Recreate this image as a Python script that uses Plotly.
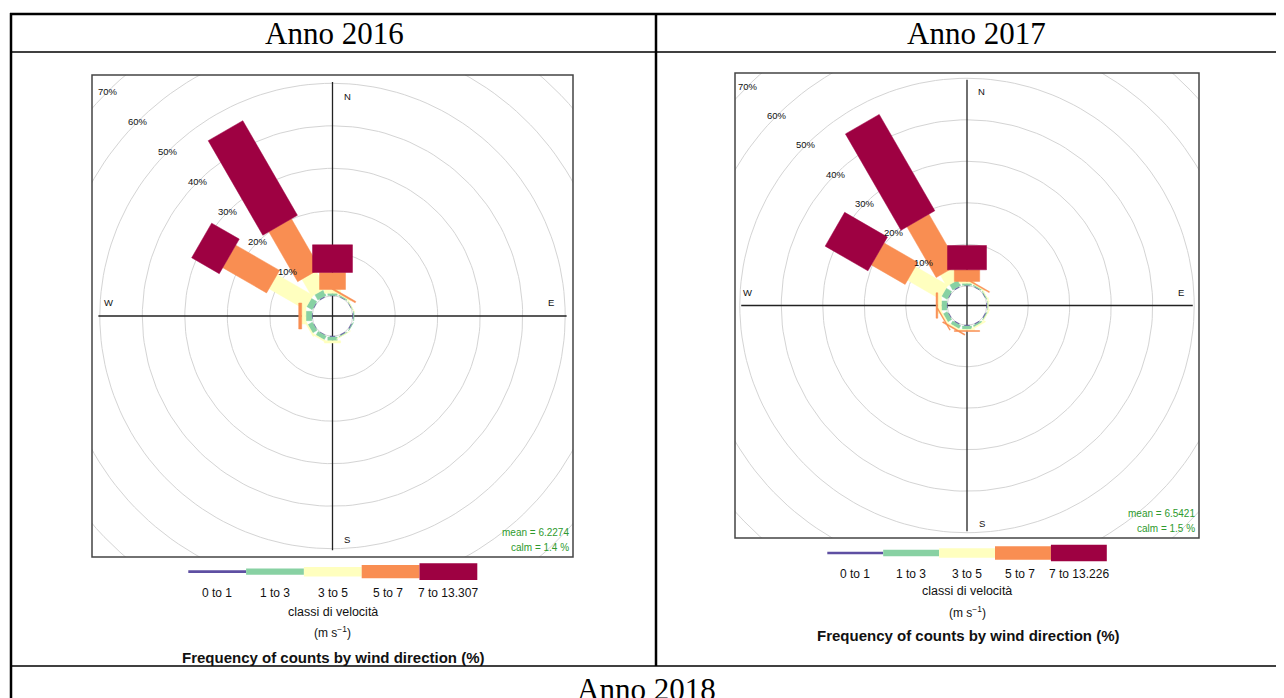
import math
import plotly.graph_objects as go

W, H = 1284, 698
PAGE_MARGIN = 8            # default body margin of the html page
FIG_W, FIG_H = W - PAGE_MARGIN, H - PAGE_MARGIN

# ---------------- data ----------------
directions = [0, 30, 60, 90, 120, 150, 180, 210, 240, 270, 300, 330]
speed_classes_2016 = ["0 to 1", "1 to 3", "3 to 5", "5 to 7", "7 to 13.307"]
speed_classes_2017 = ["0 to 1", "1 to 3", "3 to 5", "5 to 7", "7 to 13.226"]
class_colors = ["#5E4FA2", "#88D1A3", "#FFFFBF", "#F98E52", "#9E0142"]

# frequencies (%) per direction, one list per speed class
f2016_0to1 = [0.1, 0.1, 0.1, 0.2, 0.2, 0.2, 0.2, 0.1, 0.1, 0.1, 0.15, 0.2]
f2016_1to3 = [0.5, 0.3, 0.1, 0.1, 0.1, 0.2, 0.9, 1.0, 1.2, 1.4, 1.5, 1.5]
f2016_3to5 = [0.9, 0.2, 0.05, 0.0, 0.0, 0.05, 0.5, 0.3, 0.3, 1.0, 9.75, 4.65]
f2016_5to7 = [4.0, 0.35, 0.0, 0.0, 0.0, 0.0, 0.0, 0.0, 0.0, 0.7, 11.9, 13.55]
f2016_7up = [6.5, 0.0, 0.0, 0.0, 0.0, 0.0, 0.0, 0.0, 0.0, 0.0, 7.5, 25.7]

f2017_0to1 = [0.1, 0.1, 0.1, 0.2, 0.2, 0.2, 0.2, 0.2, 0.15, 0.1, 0.15, 0.2]
f2017_1to3 = [0.5, 0.3, 0.2, 0.1, 0.2, 0.4, 0.8, 0.9, 1.1, 1.3, 1.55, 1.5]
f2017_3to5 = [0.45, 0.2, 0.1, 0.05, 0.1, 0.3, 0.3, 0.4, 0.4, 0.9, 9.0, 3.1]
f2017_5to7 = [2.8, 0.25, 0.0, 0.0, 0.0, 0.0, 0.2, 0.25, 0.2, 0.4, 9.4, 14.1]
f2017_7up = [5.85, 0.0, 0.0, 0.0, 0.0, 0.0, 0.0, 0.0, 0.0, 0.0, 11.9, 26.8]

ring_values = [10, 20, 30, 40, 50, 60, 70]
stats_2016 = {"mean": "6.2274", "calm": "1.4"}
stats_2017 = {"mean": "6.5421", "calm": "1.5"}
year_titles = ["Anno 2016", "Anno 2017", "Anno 2018"]

# ---------------- styling / geometry ----------------
OFFSET = 4.75                                   # calm hole radius (in % units)
HALF_WIDTHS = [0.59, 1.1, 1.9, 3.06, 4.7]       # paddle half widths per class
FONT = "Liberation Sans, Arial, sans-serif"
SERIF = "Liberation Serif, Times New Roman, serif"


def px_x(px):
    return (px - PAGE_MARGIN) / FIG_W


def px_y(py):
    return 1 - (py - PAGE_MARGIN) / FIG_H


fig = go.Figure()

panels = [
    dict(data=[f2016_0to1, f2016_1to3, f2016_3to5, f2016_5to7, f2016_7up],
         classes=speed_classes_2016, stats=stats_2016,
         box=(92, 75, 573, 557), scale=4.25, xa="x", ya="y",
         legend_y=571.7, leg_x0=188.3, leg_w=57.8, lab_y=593, cls_y=612,
         unit_y=632, freq_y=657),
    dict(data=[f2017_0to1, f2017_1to3, f2017_3to5, f2017_5to7, f2017_7up],
         classes=speed_classes_2017, stats=stats_2017,
         box=(735, 73, 1199, 538), scale=4.15, xa="x2", ya="y2",
         legend_y=553, leg_x0=827.3, leg_w=55.9, lab_y=574, cls_y=591,
         unit_y=612, freq_y=635),
]

shapes = []
annotations = []


def txt(x, y, text, size, color="#111", family=FONT, xanchor="center",
        xref="paper", yref="paper"):
    annotations.append(dict(x=x, y=y, xref=xref, yref=yref, text=text,
                            showarrow=False, xanchor=xanchor, yanchor="middle",
                            font=dict(family=family, size=size, color=color)))


for pi, P in enumerate(panels):
    x0, y0, x1, y1 = P["box"]
    sc = P["scale"]
    hx = (x1 - x0) / 2 / sc
    hy = (y1 - y0) / 2 / sc
    axn = "" if pi == 0 else "2"
    fig.update_layout(**{
        "xaxis" + axn: dict(domain=[px_x(x0), px_x(x1)], range=[-hx, hx],
                            visible=False, fixedrange=True),
        "yaxis" + axn: dict(domain=[px_y(y1), px_y(y0)], range=[-hy, hy],
                            visible=False, fixedrange=True),
    })

    # grid rings (hole + percentage rings)
    ts = [i * 2 * math.pi / 180 for i in range(181)]
    for rv in [0] + ring_values:
        rr = OFFSET + rv
        fig.add_trace(go.Scatter(
            x=[rr * math.sin(t) for t in ts], y=[rr * math.cos(t) for t in ts],
            mode="lines", line=dict(color="#D4D4D4", width=1),
            hoverinfo="skip", showlegend=False, xaxis=P["xa"], yaxis=P["ya"]))

    # cross lines
    L = min(hx, hy) - 1.5
    for lx, ly in [([-L, L], [0, 0]), ([0, 0], [-L, L])]:
        fig.add_trace(go.Scatter(x=lx, y=ly, mode="lines",
                                 line=dict(color="#222", width=1.3),
                                 hoverinfo="skip", showlegend=False,
                                 xaxis=P["xa"], yaxis=P["ya"]))

    # paddles
    cum = [0.0] * len(directions)
    for ci, freqs in enumerate(P["data"]):
        xs, ys = [], []
        hw = HALF_WIDTHS[ci]
        for di, d in enumerate(directions):
            f = freqs[di]
            if f <= 0:
                continue
            a = math.radians(d)
            ux, uy = math.sin(a), math.cos(a)
            vx, vy = math.cos(a), -math.sin(a)
            r1 = OFFSET + cum[di]
            r2 = OFFSET + cum[di] + f
            pts = [(r1 * ux - hw * vx, r1 * uy - hw * vy),
                   (r2 * ux - hw * vx, r2 * uy - hw * vy),
                   (r2 * ux + hw * vx, r2 * uy + hw * vy),
                   (r1 * ux + hw * vx, r1 * uy + hw * vy),
                   (r1 * ux - hw * vx, r1 * uy - hw * vy)]
            xs += [p[0] for p in pts] + [None]
            ys += [p[1] for p in pts] + [None]
            cum[di] += f
        fig.add_trace(go.Scatter(
            x=xs, y=ys, mode="lines", fill="toself",
            fillcolor=class_colors[ci],
            line=dict(color=class_colors[ci], width=0.5),
            name=P["classes"][ci], hoverinfo="skip", showlegend=False,
            xaxis=P["xa"], yaxis=P["ya"]))

    # ring labels along NW diagonal
    for rv in ring_values:
        rr = (OFFSET + rv) / math.sqrt(2)
        txt(-rr, rr, f"{rv}%", 9.5, xref=P["xa"], yref=P["ya"])
    # compass labels
    for lab, (lx, ly) in {"N": (3.5, 51.6), "E": (51.5, 3.2),
                          "S": (3.5, -52.6), "W": (-52.8, 3.2)}.items():
        txt(lx, ly, lab, 9.5, xref=P["xa"], yref=P["ya"])
    # mean / calm
    txt(px_x(x1 - 2), px_y(y1 - 25), f"mean = {P['stats']['mean']}", 10,
        color="#2E9A2E", xanchor="right")
    txt(px_x(x1 - 2), px_y(y1 - 10), f"calm = {P['stats']['calm']} %", 10,
        color="#2E9A2E", xanchor="right")

    # panel border
    shapes.append(dict(type="rect", xref="paper", yref="paper",
                       x0=px_x(x0), x1=px_x(x1), y0=px_y(y1), y1=px_y(y0),
                       line=dict(color="#444", width=1.5)))

    # colour key legend
    key_heights = [2.7, 6.3, 9.5, 13.3, 16.7]
    for ci in range(5):
        kx0 = P["leg_x0"] + ci * P["leg_w"]
        kx1 = kx0 + P["leg_w"]
        kh = key_heights[ci]
        shapes.append(dict(type="rect", xref="paper", yref="paper",
                           x0=px_x(kx0), x1=px_x(kx1),
                           y0=px_y(P["legend_y"] + kh / 2),
                           y1=px_y(P["legend_y"] - kh / 2),
                           fillcolor=class_colors[ci], line=dict(width=0)))
        lab_x = kx0 + P["leg_w"] / 2
        if ci == 3:
            lab_x -= 3
        txt(px_x(lab_x), px_y(P["lab_y"]), P["classes"][ci], 12)
    cx = P["leg_x0"] + 2.5 * P["leg_w"]
    txt(px_x(cx), px_y(P["cls_y"]), "classi di velocità", 12.5)
    txt(px_x(cx), px_y(P["unit_y"]), "(m s<sup>\u22121</sup>)", 12)
    txt(px_x(cx + 1), px_y(P["freq_y"]),
        "<b>Frequency of counts by wind direction (%)</b>", 15)


# ---------------- table frame ----------------
def hline(y, xa, xb, w=1.5):
    shapes.append(dict(type="line", xref="paper", yref="paper",
                       x0=px_x(xa), x1=px_x(xb), y0=px_y(y), y1=px_y(y),
                       line=dict(color="black", width=w)))


def vline(x, ya, yb, w=2):
    shapes.append(dict(type="line", xref="paper", yref="paper",
                       x0=px_x(x), x1=px_x(x), y0=px_y(ya), y1=px_y(yb),
                       line=dict(color="black", width=w)))


hline(14, 10, 1290, 2.5)
hline(52, 10, 1290, 1.3)
hline(666, 10, 1290, 1.5)
vline(11, 13, 700, 2.5)
vline(656, 13, 666, 2.5)

txt(px_x(334), px_y(34), year_titles[0], 31, color="black", family=SERIF)
txt(px_x(976), px_y(34), year_titles[1], 31, color="black", family=SERIF)
txt(px_x(646), px_y(689), year_titles[2], 31, color="black", family=SERIF)

fig.update_layout(width=FIG_W, height=FIG_H, margin=dict(l=0, r=0, t=0, b=0),
                  paper_bgcolor="white", plot_bgcolor="white",
                  showlegend=False, shapes=shapes, annotations=annotations)

fig.write_html("out.html")
